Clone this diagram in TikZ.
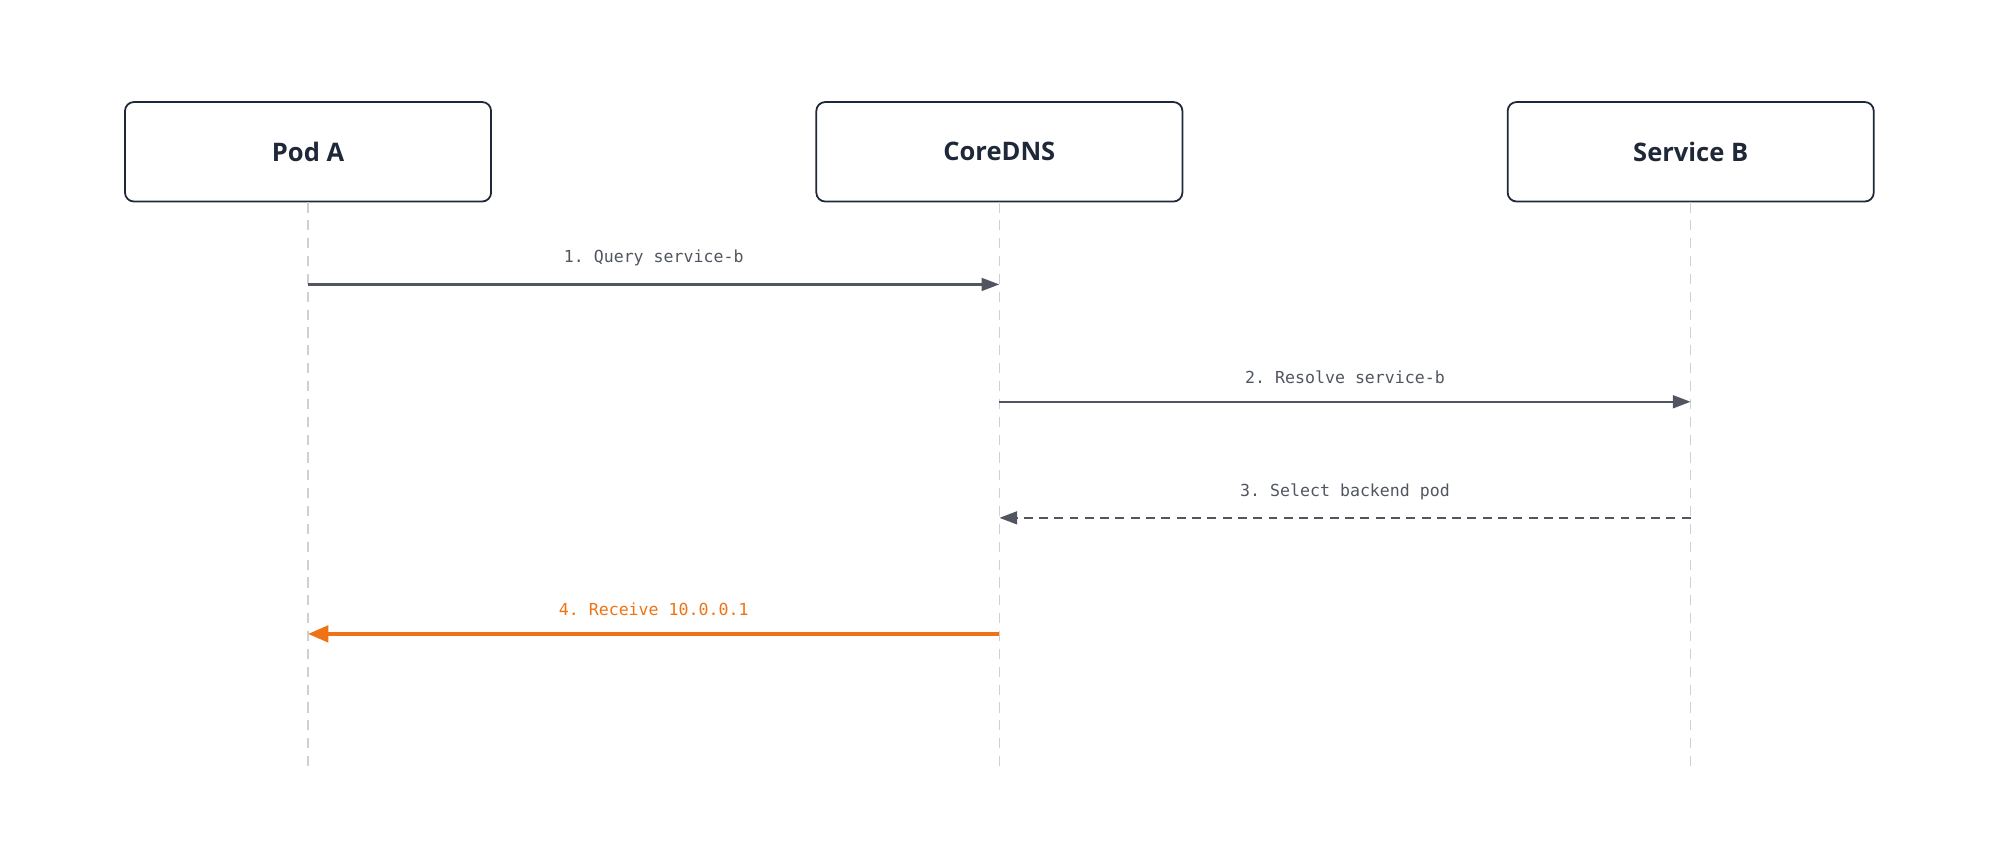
\documentclass[tikz,border=0pt]{standalone}
\usepackage{fontspec}
\setmainfont{Open Sans}
\setmonofont{DejaVu Sans Mono}
\usetikzlibrary{arrows.meta}
\definecolor{ink}{HTML}{1E2838}
\definecolor{msg}{HTML}{50555F}
\definecolor{life}{HTML}{D0D0D0}
\definecolor{hot}{HTML}{EE7316}
\tikzset{
  actor/.style={draw=ink, line width=1.4pt, rounded corners=7pt, minimum width=287pt, minimum height=78pt, font=\fontsize{20}{24}\selectfont\bfseries, text=ink},
  lifeline/.style={life, line width=1.2pt, dash pattern=on 8pt off 6pt},
  call/.style={msg, line width=2pt, -{Triangle[length=14pt,width=10pt]}},
  reply/.style={call, dash pattern=on 7pt off 5pt},
  result/.style={hot, line width=2.6pt, -{Triangle[length=16pt,width=13pt]}},
  lbl/.style={font=\ttfamily\fontsize{13}{16}\selectfont, text=msg}
}
\begin{document}
\begin{tikzpicture}[x=1pt,y=-1pt]
            \useasboundingbox (0,0) rectangle (1568,668);
            \node[actor] (podA) at (241.5,119) {Pod A};
            \node[actor] (dns) at (783.5,119) {CoreDNS};
            \node[actor] (svcB) at (1325.5,119) {Service B};

            \coordinate (podAend) at (241.5,602);
            \coordinate (dnsend) at (783.5,602);
            \coordinate (svcBend) at (1325.5,602);
            \draw[lifeline] (podA.south) -- (podAend);
            \draw[lifeline] (dns.south) -- (dnsend);
            \draw[lifeline] (svcB.south) -- (svcBend);

            \coordinate (a1) at (241.5,223);
            \coordinate (b1) at (783.5,223);
            \coordinate (a2) at (783.5,315);
            \coordinate (b2) at (1325.5,315);
            \coordinate (a3) at (1325.5,406);
            \coordinate (b3) at (783.5,406);
            \coordinate (a4) at (783.5,497);
            \coordinate (b4) at (241.5,497);

            \draw[call] (a1) -- node[lbl, above=10pt] (m1) {1. Query service-b} (b1);
            \draw[call] (a2) -- node[lbl, above=10pt] (m2) {2. Resolve service-b} (b2);
            \draw[reply] (a3) -- node[lbl, above=10pt] (m3) {3. Select backend pod} (b3);
            \draw[result] (a4) -- node[lbl, text=hot, above=10pt] (m4) {4. Receive 10.0.0.1} (b4);
\end{tikzpicture}
\end{document}
